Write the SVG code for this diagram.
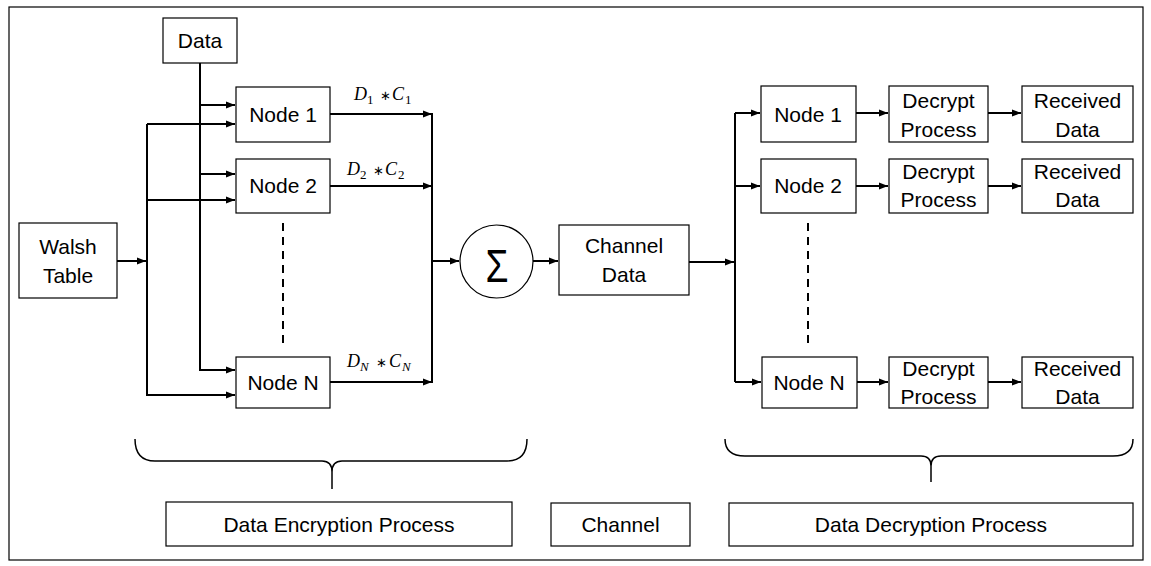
<svg xmlns="http://www.w3.org/2000/svg" width="1151" height="566" viewBox="0 0 1151 566">
<style>
.box{fill:#fff;stroke:#000;stroke-width:1.2}
.t{font-family:"Liberation Sans",Arial,sans-serif;font-size:21px;fill:#000;text-anchor:middle}
.m{font-family:"Liberation Serif","Times New Roman",serif;font-size:18px;fill:#000}
.w{fill:none;stroke:#000;stroke-width:2}
.br{fill:none;stroke:#000;stroke-width:1.5}
.d{fill:none;stroke:#000;stroke-width:2;stroke-dasharray:8,6}
</style>
<defs>
<marker id="ah" markerWidth="10" markerHeight="8" refX="9" refY="4" orient="auto" markerUnits="userSpaceOnUse">
<path d="M0,0.5 L9,4 L0,7.5 Z" fill="#000"/>
</marker>
</defs>
<rect x="9" y="7" width="1134" height="553" fill="#fff" stroke="#000" stroke-width="1.2"/>

<g id="connectors">
<path class="w" d="M200,63 L200,370 L235,370" marker-end="url(#ah)"/>
<path class="w" d="M200,105 L235,105" marker-end="url(#ah)"/>
<path class="w" d="M200,174 L235,174" marker-end="url(#ah)"/>
<path class="w" d="M117,261 L146,261" marker-end="url(#ah)"/>
<path class="w" d="M147,124 L147,395 L235,395" marker-end="url(#ah)"/>
<path class="w" d="M147,124 L235,124" marker-end="url(#ah)"/>
<path class="w" d="M147,200 L235,200" marker-end="url(#ah)"/>
<path class="w" d="M330,114 L432,114" marker-end="url(#ah)"/>
<path class="w" d="M330,186 L432,186" marker-end="url(#ah)"/>
<path class="w" d="M330,382 L432,382" marker-end="url(#ah)"/>
<path class="w" d="M432,113 L432,383"/>
<path class="w" d="M432,261 L459,261" marker-end="url(#ah)"/>
<path class="w" d="M533,261 L558,261" marker-end="url(#ah)"/>
<path class="w" d="M689,262 L734,262" marker-end="url(#ah)"/>
<path class="w" d="M735,113 L735,382"/>
<path class="w" d="M735,113 L760,113" marker-end="url(#ah)"/>
<path class="w" d="M735,186 L760,186" marker-end="url(#ah)"/>
<path class="w" d="M735,382 L761,382" marker-end="url(#ah)"/>
<path class="w" d="M856,113 L888,113" marker-end="url(#ah)"/>
<path class="w" d="M856,186 L888,186" marker-end="url(#ah)"/>
<path class="w" d="M857,382 L888,382" marker-end="url(#ah)"/>
<path class="w" d="M988,113 L1021,113" marker-end="url(#ah)"/>
<path class="w" d="M988,186 L1021,186" marker-end="url(#ah)"/>
<path class="w" d="M988,382 L1021,382" marker-end="url(#ah)"/>
<path class="d" d="M283,223 L283,343"/>
<path class="d" d="M808,223 L808,343"/>
<path class="br" d="M135,439 Q135,461 155,461 L322,461 Q332,461 332,472 L332,489 M332,472 Q332,461 342,461 L507,461 Q527,461 527,439"/>
<path class="br" d="M725,439 Q725,456 745,456 L921,456 Q931,456 931,466 L931,482 M931,466 Q931,456 941,456 L1113,456 Q1133,456 1133,439"/>
</g>

<g id="label-d1c1">
<text class="m" y="100"><tspan x="354" font-style="italic">D</tspan><tspan x="367" y="104" font-size="13">1</tspan><tspan x="380" y="100" font-size="13">∗</tspan><tspan x="392" font-style="italic">C</tspan><tspan x="405" y="104" font-size="13">1</tspan></text>
</g>
<g id="label-d2c2">
<text class="m" y="175"><tspan x="347" font-style="italic">D</tspan><tspan x="360" y="179" font-size="13">2</tspan><tspan x="373" y="175" font-size="13">∗</tspan><tspan x="385" font-style="italic">C</tspan><tspan x="398" y="179" font-size="13">2</tspan></text>
</g>
<g id="label-dncn">
<text class="m" y="367"><tspan x="347" font-style="italic">D</tspan><tspan x="360" y="371" font-size="13" font-style="italic">N</tspan><tspan x="376" y="367" font-size="13">∗</tspan><tspan x="389" font-style="italic">C</tspan><tspan x="402" y="371" font-size="13" font-style="italic">N</tspan></text>
</g>

<g id="data">
<rect class="box" x="163" y="18" width="74" height="45"/>
<text class="t" x="200" y="48">Data</text>
</g>
<g id="walsh">
<rect class="box" x="19" y="223" width="98" height="75"/>
<text class="t" x="68" y="254">Walsh</text>
<text class="t" x="68" y="283">Table</text>
</g>
<g id="enc-node1">
<rect class="box" x="236" y="87" width="94" height="55"/>
<text class="t" x="283" y="122">Node 1</text>
</g>
<g id="enc-node2">
<rect class="box" x="236" y="159" width="94" height="54"/>
<text class="t" x="283" y="193">Node 2</text>
</g>
<g id="enc-nodeN">
<rect class="box" x="236" y="357" width="94" height="51"/>
<text class="t" x="283" y="390">Node N</text>
</g>
<g id="sum">
<circle cx="496.5" cy="261.5" r="36.5" fill="#fff" stroke="#000" stroke-width="1.2"/>
<text x="497" y="282" font-family="Liberation Sans,Arial,sans-serif" font-size="46" text-anchor="middle" textLength="23" lengthAdjust="spacingAndGlyphs">Σ</text>
</g>
<g id="channel-data">
<rect class="box" x="559" y="225" width="130" height="70"/>
<text class="t" x="624" y="253">Channel</text>
<text class="t" x="624" y="282">Data</text>
</g>

<g id="dec-node1">
<rect class="box" x="761" y="86" width="95" height="56"/>
<text class="t" x="808" y="122">Node 1</text>
</g>
<g id="dec-node2">
<rect class="box" x="761" y="159" width="95" height="54"/>
<text class="t" x="808" y="193">Node 2</text>
</g>
<g id="dec-nodeN">
<rect class="box" x="762" y="357" width="95" height="51"/>
<text class="t" x="809" y="390">Node N</text>
</g>
<g id="decrypt1">
<rect class="box" x="889" y="86" width="99" height="56"/>
<text class="t" x="938.5" y="108">Decrypt</text>
<text class="t" x="938.5" y="137">Process</text>
</g>
<g id="decrypt2">
<rect class="box" x="889" y="159" width="99" height="54"/>
<text class="t" x="938.5" y="179">Decrypt</text>
<text class="t" x="938.5" y="207">Process</text>
</g>
<g id="decryptN">
<rect class="box" x="889" y="357" width="99" height="51"/>
<text class="t" x="938.5" y="376">Decrypt</text>
<text class="t" x="938.5" y="404">Process</text>
</g>
<g id="received1">
<rect class="box" x="1022" y="86" width="111" height="56"/>
<text class="t" x="1077.5" y="108">Received</text>
<text class="t" x="1077.5" y="137">Data</text>
</g>
<g id="received2">
<rect class="box" x="1022" y="159" width="111" height="54"/>
<text class="t" x="1077.5" y="179">Received</text>
<text class="t" x="1077.5" y="207">Data</text>
</g>
<g id="receivedN">
<rect class="box" x="1022" y="357" width="111" height="51"/>
<text class="t" x="1077.5" y="376">Received</text>
<text class="t" x="1077.5" y="404">Data</text>
</g>

<g id="enc-process">
<rect class="box" x="166" y="502" width="346" height="44"/>
<text class="t" x="339" y="532">Data Encryption Process</text>
</g>
<g id="channel">
<rect class="box" x="551" y="503" width="139" height="43"/>
<text class="t" x="620.5" y="532">Channel</text>
</g>
<g id="dec-process">
<rect class="box" x="729" y="503" width="404" height="43"/>
<text class="t" x="931" y="532">Data Decryption Process</text>
</g>
</svg>
